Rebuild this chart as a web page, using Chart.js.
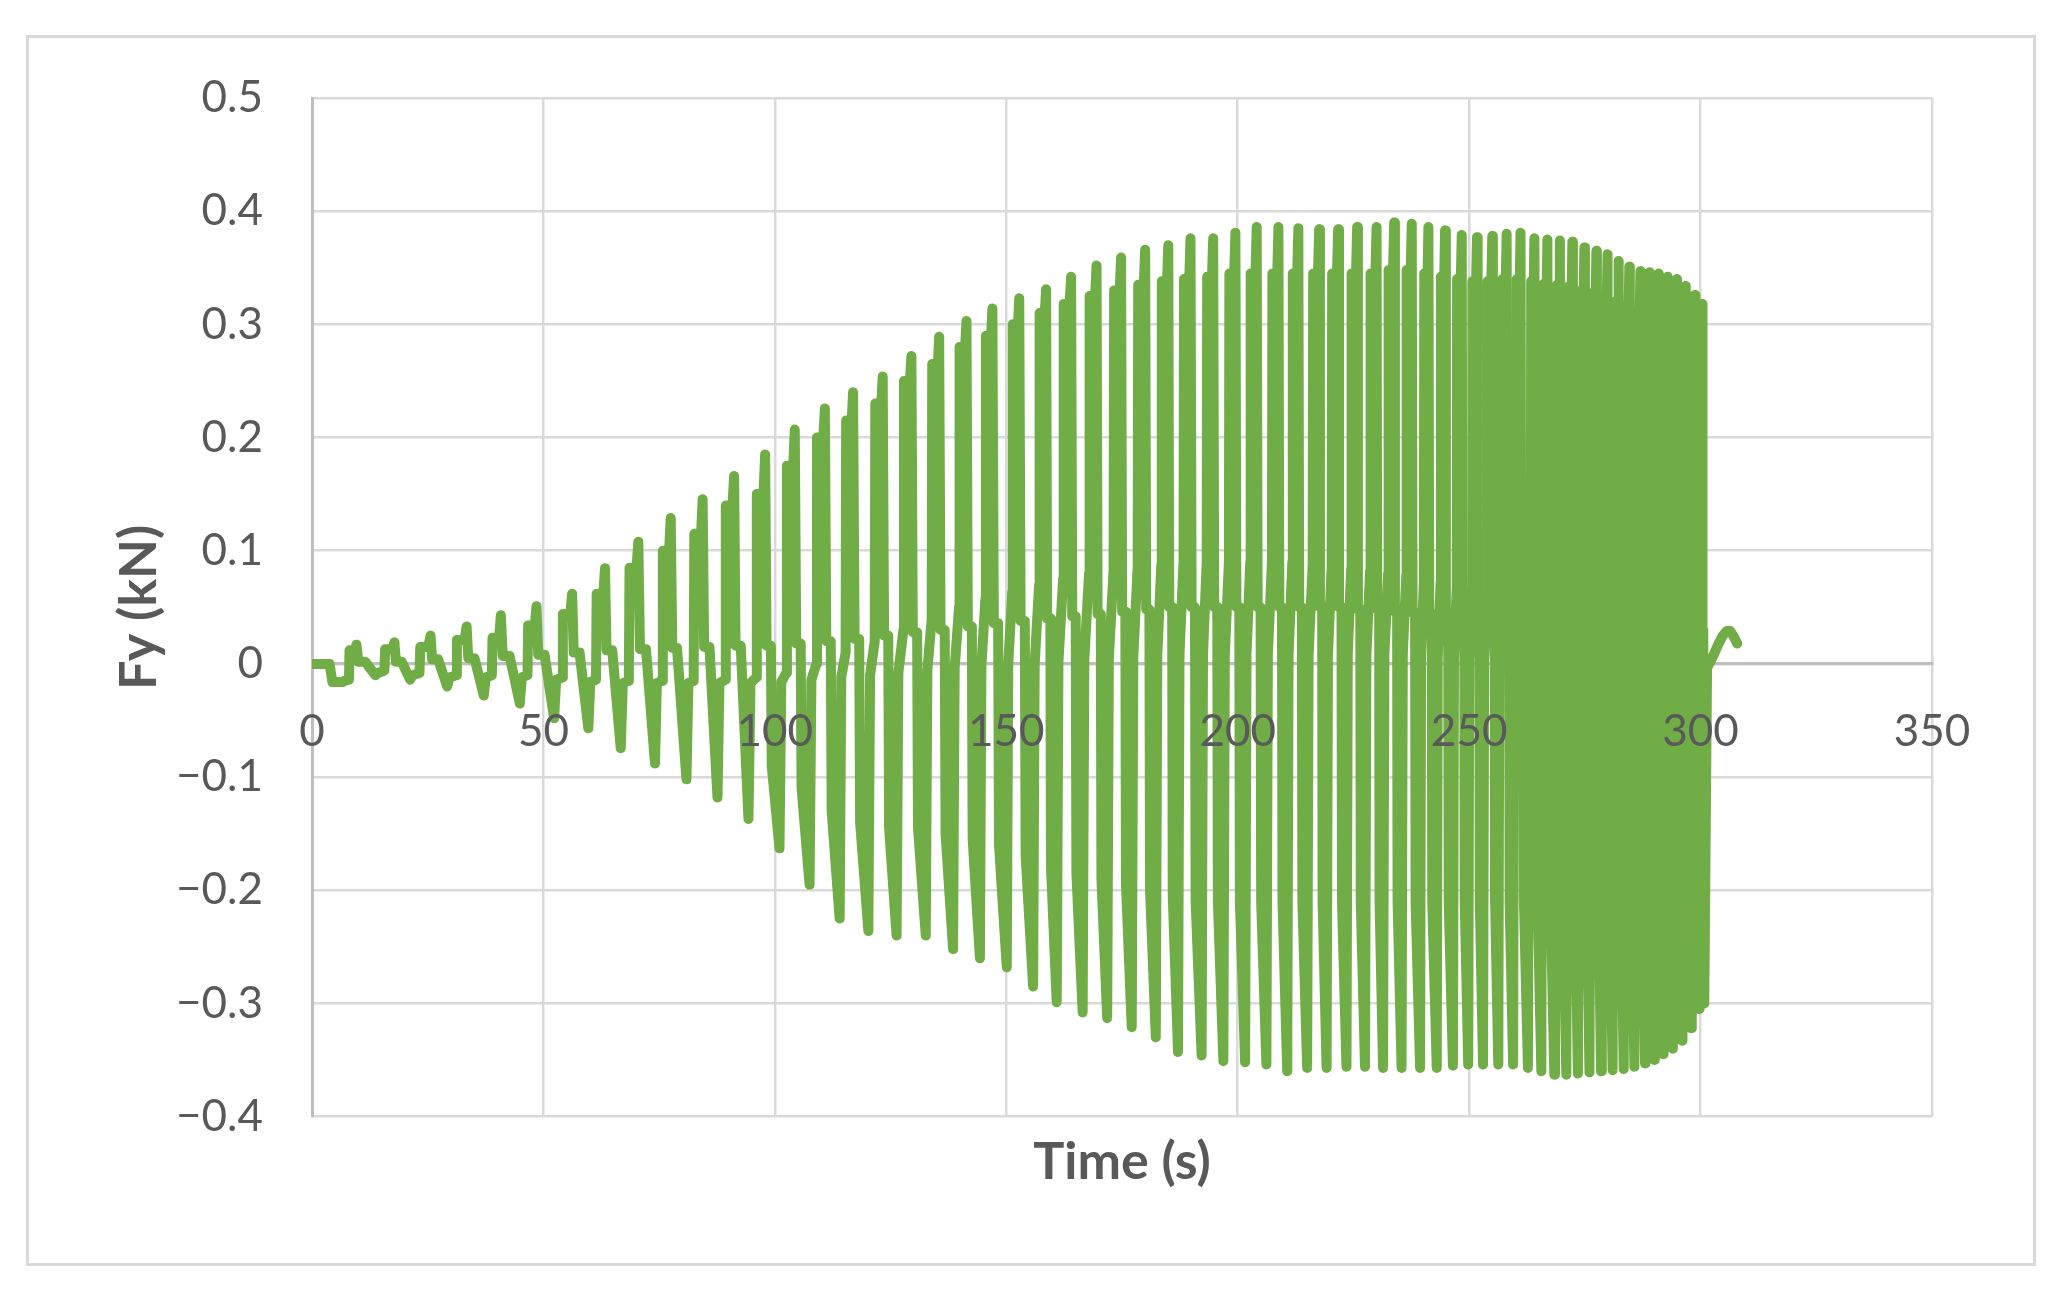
<!DOCTYPE html>
<html><head><meta charset="utf-8">
<script src="https://cdn.jsdelivr.net/npm/chart.js@4.4.1/dist/chart.umd.min.js"></script>
<style>
html,body{margin:0;padding:0;background:#fff;}
#wrap{position:relative;width:2071px;height:1300px;overflow:hidden;}
#frame{position:absolute;left:26px;top:35px;width:2004px;height:1225px;border:3px solid #d9d9d9;}
canvas{position:absolute;left:0;top:0;}
</style></head><body>
<div id="wrap"><div id="frame"></div><canvas id="c" width="2071" height="1300"></canvas></div>
<script>
// ---- data ----
const xTickValues = [0, 50, 100, 150, 200, 250, 300, 350];
const xTickLabels = ['0', '50', '100', '150', '200', '250', '300', '350'];
const yTickValues = [-0.4, -0.3, -0.2, -0.1, 0, 0.1, 0.2, 0.3, 0.4, 0.5];
const yTickLabels = ['\u22120.4', '\u22120.3', '\u22120.2', '\u22120.1', '0', '0.1', '0.2', '0.3', '0.4', '0.5'];

// start of record (s, kN)
const leadTime  = [0, 3.8, 4.4, 6.6];
const leadForce = [0, 0, -0.016, -0.016];

// one entry per oscillation cycle
const riseTime = [8.1, 15.8, 23.4, 31.3, 39.0, 46.7, 54.2, 61.5, 68.6, 75.8,
  82.6, 89.4, 96.1, 102.6, 109.1, 115.4, 121.7, 127.9, 134.0, 139.9,
  145.6, 151.4, 157.2, 162.4, 168.0, 173.3, 178.5, 183.6, 188.4, 193.4,
  198.2, 202.8, 207.5, 211.9, 216.3, 220.4, 224.6, 228.7, 232.6, 236.5,
  240.3, 243.9, 247.4, 250.7, 254.0, 257.2, 260.3, 263.4, 266.2, 269.0,
  271.6, 274.2, 276.7, 279.2, 281.6, 284.0, 286.3, 288.5, 290.4, 292.4,
  294.4, 296.4, 298.4, 300.0];
const peakTime = [9.6, 17.8, 25.6, 33.4, 40.8, 48.5, 56.2, 63.3, 70.5, 77.5,
  84.4, 91.2, 97.9, 104.3, 110.8, 116.9, 123.3, 129.5, 135.5, 141.4,
  147.0, 152.8, 158.6, 164.0, 169.5, 174.8, 180.0, 185.0, 189.8, 194.7,
  199.5, 204.1, 208.8, 213.1, 217.6, 221.7, 225.8, 230.0, 233.8, 237.6,
  241.2, 244.8, 248.4, 251.7, 255.0, 258.1, 261.1, 264.1, 266.9, 269.6,
  272.3, 274.9, 277.5, 279.9, 282.3, 284.6, 287.0, 289.0, 290.9, 292.9,
  294.9, 296.8, 298.8, 300.4];
const peakForce = [0.017, 0.019, 0.025, 0.033, 0.043, 0.051, 0.062, 0.0845, 0.108, 0.129,
  0.1455, 0.166, 0.185, 0.207, 0.2256, 0.240, 0.254, 0.272, 0.289, 0.303,
  0.314, 0.323, 0.331, 0.342, 0.352, 0.359, 0.366, 0.370, 0.376, 0.376,
  0.381, 0.386, 0.386, 0.385, 0.384, 0.384, 0.386, 0.386, 0.390, 0.389,
  0.386, 0.383, 0.379, 0.377, 0.378, 0.380, 0.381, 0.376, 0.375, 0.374,
  0.373, 0.368, 0.365, 0.362, 0.356, 0.351, 0.347, 0.346, 0.345, 0.342,
  0.340, 0.334, 0.326, 0.318];
const shoulderForce = [0.012, 0.013, 0.015, 0.021, 0.023, 0.034, 0.044, 0.062, 0.085, 0.100,
  0.115, 0.140, 0.150, 0.175, 0.200, 0.215, 0.230, 0.250, 0.265, 0.280,
  0.290, 0.300, 0.310, 0.318, 0.325, 0.330, 0.335, 0.338, 0.340, 0.342,
  0.345, 0.345, 0.345, 0.345, 0.345, 0.345, 0.345, 0.345, 0.348, 0.348,
  0.345, 0.342, 0.340, 0.338, 0.338, 0.340, 0.340, 0.338, 0.336, 0.335,
  0.334, 0.330, 0.328, 0.325, 0.320, 0.316, 0.312, 0.311, 0.310, 0.308,
  0.306, 0.300, 0.294, 0.290];
const troughTime = [13.7, 21.2, 29.2, 37.1, 44.9, 52.3, 59.7, 66.7, 74.1, 80.9,
  87.6, 94.3, 101.0, 107.5, 114.0, 120.2, 126.3, 132.6, 138.5, 144.3,
  150.1, 155.8, 160.9, 166.5, 171.8, 177.1, 182.3, 187.1, 192.2, 196.9,
  201.6, 206.2, 210.7, 215.0, 219.2, 223.5, 227.5, 231.4, 235.4, 239.4,
  243.0, 246.5, 249.8, 253.0, 256.3, 259.5, 262.7, 265.6, 268.4, 271.0,
  273.5, 276.0, 278.5, 281.0, 283.4, 285.7, 288.0, 290.0, 292.0, 294.0,
  296.0, 298.0, 299.7, 300.8];
const troughForce = [-0.010, -0.014, -0.020, -0.028, -0.035, -0.048, -0.057, -0.0745, -0.088, -0.102,
  -0.118, -0.137, -0.163, -0.195, -0.225, -0.236, -0.240, -0.240, -0.252, -0.260,
  -0.268, -0.285, -0.299, -0.308, -0.313, -0.321, -0.330, -0.343, -0.346, -0.351,
  -0.352, -0.354, -0.360, -0.357, -0.357, -0.356, -0.356, -0.357, -0.357, -0.357,
  -0.357, -0.355, -0.354, -0.354, -0.354, -0.354, -0.357, -0.360, -0.363, -0.363,
  -0.362, -0.361, -0.360, -0.359, -0.358, -0.356, -0.353, -0.350, -0.345, -0.340,
  -0.333, -0.322, -0.305, -0.300];
// level reached just after the preceding trough, and at the end of that low step
const lowStepStart = [-0.015, -0.008, -0.010, -0.012, -0.012, -0.012, -0.014, -0.016, -0.017, -0.017,
  -0.017, -0.017, -0.017, -0.016, -0.014, -0.012, -0.010, -0.008, -0.006, -0.004,
  -0.002, 0.000, 0.000, 0.002, 0.004, 0.005, 0.006, 0.007, 0.008, 0.008,
  0.008, 0.008, 0.008, 0.008, 0.008, 0.008, 0.008, 0.008, 0.008, 0.008,
  0.006, 0.005, 0.005, 0.004, 0.004, 0.003, 0.003, 0.002, 0.002, 0.002,
  0.002, 0.002, 0.002, 0.002, 0.002, 0.002, 0.002, 0.002, 0.002, 0.002,
  0.002, 0.002, 0.002, 0.002];
const lowStepEnd = [-0.014, -0.006, -0.008, -0.010, -0.010, -0.010, -0.012, -0.014, -0.015, -0.015,
  -0.015, -0.014, -0.012, -0.008, 0.000, 0.010, 0.020, 0.030, 0.040, 0.050,
  0.058, 0.064, 0.070, 0.075, 0.080, 0.083, 0.086, 0.088, 0.090, 0.090,
  0.090, 0.090, 0.090, 0.090, 0.088, 0.086, 0.084, 0.082, 0.080, 0.078,
  0.075, 0.072, 0.068, 0.065, 0.062, 0.058, 0.055, 0.052, 0.050, 0.048,
  0.046, 0.044, 0.042, 0.040, 0.040, 0.040, 0.040, 0.040, 0.040, 0.040,
  0.040, 0.040, 0.040, 0.040];
// level of the short step right after each peak
const highStep = [0.002, 0.002, 0.004, 0.005, 0.007, 0.008, 0.010, 0.012, 0.013, 0.014,
  0.015, 0.016, 0.016, 0.018, 0.020, 0.022, 0.025, 0.028, 0.030, 0.033,
  0.036, 0.038, 0.040, 0.042, 0.044, 0.046, 0.048, 0.050, 0.050, 0.050,
  0.050, 0.050, 0.050, 0.050, 0.050, 0.050, 0.048, 0.048, 0.046, 0.045,
  0.044, 0.043, 0.042, 0.040, 0.038, 0.036, 0.035, 0.034, 0.033, 0.032,
  0.031, 0.030, 0.030, 0.030, 0.030, 0.030, 0.030, 0.030, 0.030, 0.030,
  0.030, 0.030, 0.030, 0.030];
// kink on the way down to each trough
const fallStep = [0.002, 0.002, 0.004, 0.005, 0.007, 0.008, 0.010, 0.012, 0.013, 0.014,
  0.015, 0.016, -0.090, -0.110, -0.130, -0.140, -0.145, -0.145, -0.150, -0.155,
  -0.160, -0.170, -0.180, -0.185, -0.190, -0.195, -0.200, -0.205, -0.210, -0.210,
  -0.210, -0.210, -0.210, -0.210, -0.210, -0.210, -0.210, -0.210, -0.210, -0.210,
  -0.210, -0.210, -0.210, -0.210, -0.210, -0.210, -0.210, -0.210, -0.210, -0.210,
  -0.210, -0.210, -0.210, -0.210, -0.210, -0.210, -0.210, -0.210, -0.210, -0.210,
  -0.200, -0.190, -0.180, -0.180];

// free decay after excitation stops
const tailTime  = [301.4, 302.6, 303.8, 304.8, 305.6, 306.4, 307.2, 307.9];
const tailForce = [-0.004, 0.006, 0.017, 0.025, 0.029, 0.029, 0.024, 0.018];

// ---- assemble the polyline from the read values ----
const pts = [];
for (let k = 0; k < leadTime.length; k++) pts.push({x: leadTime[k], y: leadForce[k]});
let prevT = leadTime[leadTime.length - 1];
for (let i = 0; i < peakTime.length; i++) {
  const tp = peakTime[i], tn = troughTime[i];
  const D = tp - prevT, E = tn - tp;
  pts.push({x: prevT + 0.12 * D, y: lowStepStart[i]});
  pts.push({x: riseTime[i] - 0.04 * D, y: lowStepEnd[i]});
  pts.push({x: riseTime[i], y: shoulderForce[i]});
  pts.push({x: tp - 0.10 * D, y: shoulderForce[i]});
  pts.push({x: tp, y: peakForce[i]});
  pts.push({x: tp + 0.10 * E, y: highStep[i]});
  pts.push({x: tp + 0.40 * E, y: highStep[i]});
  pts.push({x: tp + 0.46 * E, y: fallStep[i]});
  pts.push({x: tn, y: troughForce[i]});
  prevT = tn;
}
for (let k = 0; k < tailTime.length; k++) pts.push({x: tailTime[k], y: tailForce[k]});

const FONT = 'Lato, "Open Sans", sans-serif';
const TXT = '#595959';

new Chart(document.getElementById('c'), {
  type: 'line',
  data: {datasets: [{
    data: pts, xAxisID: 'x', yAxisID: 'y',
    borderColor: '#70AD47', borderWidth: 10, pointRadius: 0, tension: 0,
    borderJoinStyle: 'round', borderCapStyle: 'round', fill: false
  }]},
  options: {
    responsive: false, devicePixelRatio: 1, animation: false,
    layout: {padding: {left: 0, right: 139, top: 98, bottom: 107}},
    plugins: {
      legend: {display: false}, tooltip: {enabled: false},
      title: {display: true, text: 'Time (s)', position: 'bottom', fullSize: false,
        color: TXT, font: {family: FONT, size: 52, weight: 'bold'}, padding: {top: 14, bottom: 0}}
    },
    scales: {
      y: {
        type: 'linear', position: 'left', min: -0.4, max: 0.5,
        afterBuildTicks: s => { s.ticks = yTickValues.map(v => ({value: v})); },
        ticks: {padding: 49, color: TXT, font: {family: FONT, size: 44},
          callback: (v, i) => yTickLabels[i]},
        grid: {color: '#d9d9d9', lineWidth: 2.5, drawTicks: false},
        border: {display: true, color: '#bfbfbf', width: 3},
        title: {display: true, text: 'Fy (kN)', color: TXT,
          font: {family: FONT, size: 52, weight: 'bold'}, padding: {top: 108, bottom: 0}},
        afterFit: s => { s.width = 312; }
      },
      x: {
        type: 'linear', axis: 'x', position: {y: 0}, min: 0, max: 350,
        afterBuildTicks: s => { s.ticks = xTickValues.map(v => ({value: v})); },
        ticks: {display: false},
        grid: {color: '#d9d9d9', lineWidth: 2.5, drawTicks: false},
        border: {display: true, color: '#bfbfbf', width: 3},
        afterFit: s => { s.height = 0; }
      },
      xl: {
        type: 'linear', axis: 'x', position: {y: 0}, min: 0, max: 350,
        afterBuildTicks: s => { s.ticks = xTickValues.map(v => ({value: v})); },
        ticks: {z: 1, padding: 42, color: TXT, font: {family: FONT, size: 44}, autoSkip: false, maxRotation: 0,
          callback: (v, i) => xTickLabels[i]},
        grid: {display: false, drawTicks: false},
        border: {display: false},
        afterFit: s => { s.height = 0; }
      }
    }
  }
});
</script></body></html>
